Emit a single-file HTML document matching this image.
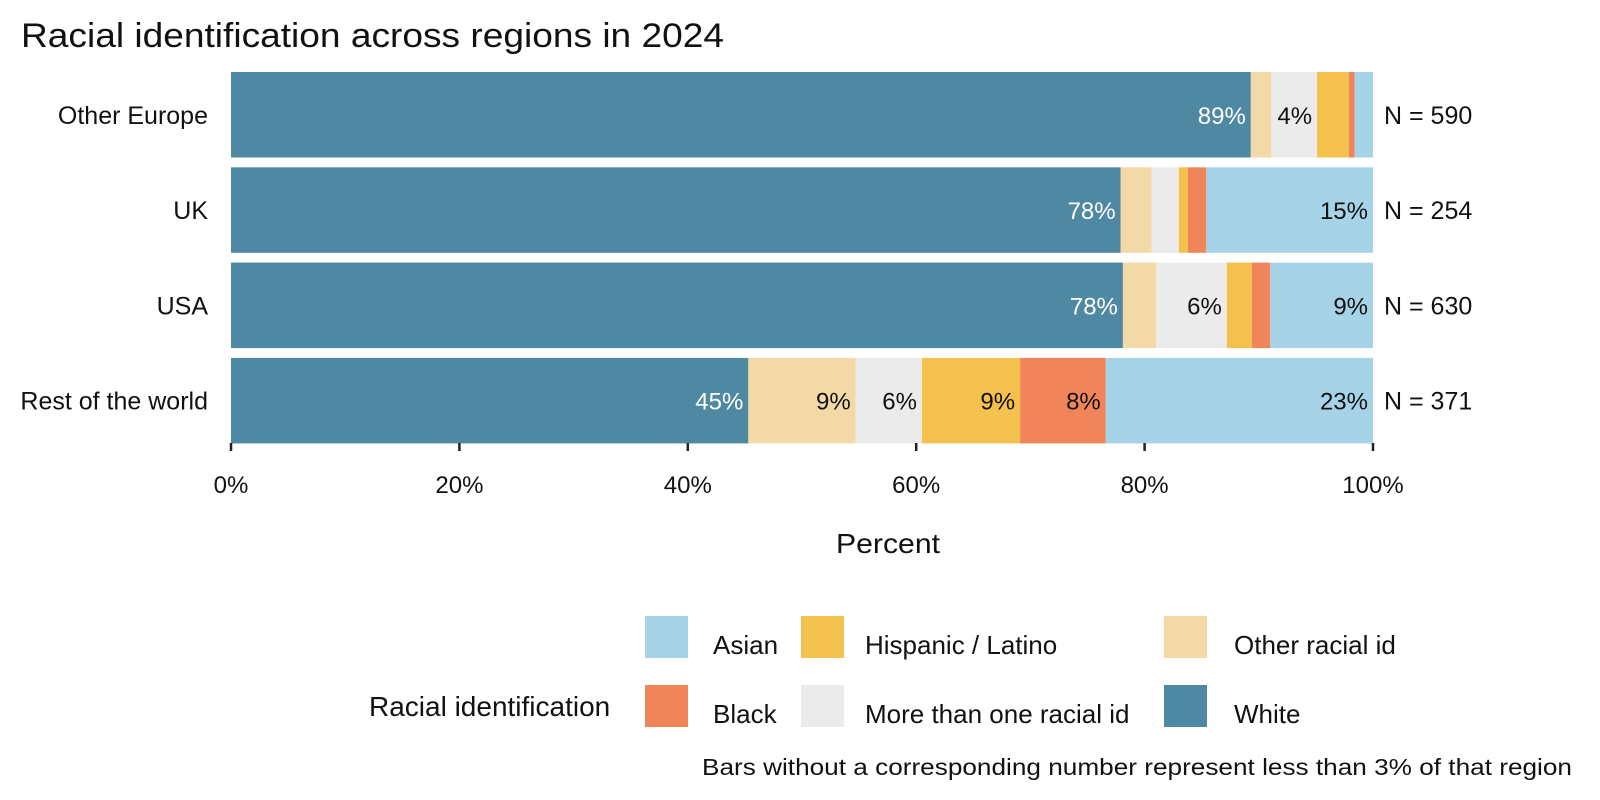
<!DOCTYPE html>
<html><head><meta charset="utf-8"><style>
html,body{margin:0;padding:0;background:#fff}
svg{display:block;font-family:"Liberation Sans",sans-serif}
</style></head><body>
<svg id="chart" width="1600" height="800" viewBox="0 0 1600 800">
<text x="21" y="47" font-size="34" fill="#111" textLength="703" lengthAdjust="spacingAndGlyphs">Racial identification across regions in 2024</text>
<g id="bars"></g>
<g id="axis"></g>
<text x="888" y="553" font-size="28" text-anchor="middle" fill="#111" textLength="104" lengthAdjust="spacingAndGlyphs">Percent</text>
<g id="legend"></g>
<text x="1572" y="775" font-size="23" text-anchor="end" fill="#111" textLength="870" lengthAdjust="spacingAndGlyphs">Bars without a corresponding number represent less than 3% of that region</text>
</svg>
<script>
const regions = ["Other Europe","UK","USA","Rest of the world"];
const counts = [590,254,630,371];
const seriesNames = ["White","Other racial id","More than one racial id","Hispanic / Latino","Black","Asian"];
const white    = [89.3,77.9,78.1,45.3];
const otherId  = [1.8,2.7,2.9,9.4];
const multi    = [4.0,2.4,6.2,5.8];
const hispanic = [2.8,0.8,2.2,8.6];
const black    = [0.5,1.6,1.6,7.5];
const asian    = [1.6,14.6,9.0,23.4];
const xTicks = [0,20,40,60,80,100];
const legendOrder = ["Asian","Hispanic / Latino","Other racial id","Black","More than one racial id","White"];

const colors = {"White":"#4F88A3","Other racial id":"#F2D9A5","More than one racial id":"#EBEBEB","Hispanic / Latino":"#F4C04E","Black":"#F0855A","Asian":"#A7D3E8"};
const series = [white,otherId,multi,hispanic,black,asian];
const NS="http://www.w3.org/2000/svg";
const x0=231, x1=1373;
const xs = v => x0 + (v/100)*(x1-x0);
const rowTop = i => 72 + i*95.3;
const barH = 85.5;
function mk(tag, attrs, parent){const e=document.createElementNS(NS,tag);for(const k in attrs)e.setAttribute(k,attrs[k]);parent.appendChild(e);return e;}
const gb=document.getElementById('bars');
regions.forEach((r,i)=>{
  const y=rowTop(i);
  const lab=mk('text',{x:208,y:y+barH/2+9,'font-size':25,'text-anchor':'end',fill:'#111'},gb);
  lab.textContent=r;
  
  
  let acc=0;
  series.forEach((s,j)=>{
    const v=s[i];
    const rect=mk('rect',{x:xs(acc),y:y,width:xs(acc+v)-xs(acc),height:barH,fill:colors[seriesNames[j]]},gb);
    
    
    acc+=v;
    if(v>=3){
      const t=mk('text',{x:xs(acc)-5,y:y+barH/2+9,'font-size':24,'text-anchor':'end',fill:j===0?'#fff':'#111'},gb);
      t.textContent=Math.round(v)+'%';
      
      
    }
  });
  const n=mk('text',{x:1384,y:y+barH/2+9,'font-size':25,fill:'#111'},gb);
  n.textContent='N = '+counts[i];
  
  
});
const ga=document.getElementById('axis');
xTicks.forEach(t=>{
  const l=mk('line',{x1:xs(t),x2:xs(t),y1:443,y2:451,stroke:'#222','stroke-width':2.5},ga);
  
  
  const tx=mk('text',{x:xs(t),y:493,'font-size':24,'text-anchor':'middle',fill:'#111'},ga);
  tx.textContent=t+'%';
  
  
});
const gl=document.getElementById('legend');
const lt=mk('text',{x:369,y:716,'font-size':28,fill:'#111'},gl);
lt.textContent='Racial identification';


const colX=[645,801,1164], txtX=[713,865,1234], rowY=[616,685];
legendOrder.forEach((name,k)=>{
  const c=k%3, r=Math.floor(k/3);
  const sw=mk('rect',{x:colX[c],y:rowY[r],width:43,height:42,fill:colors[name]},gl);
  
  
  const t=mk('text',{x:txtX[c],y:rowY[r]+38,'font-size':26,fill:'#111'},gl);
  t.textContent=name;
  
  
});
</script>
</body></html>
